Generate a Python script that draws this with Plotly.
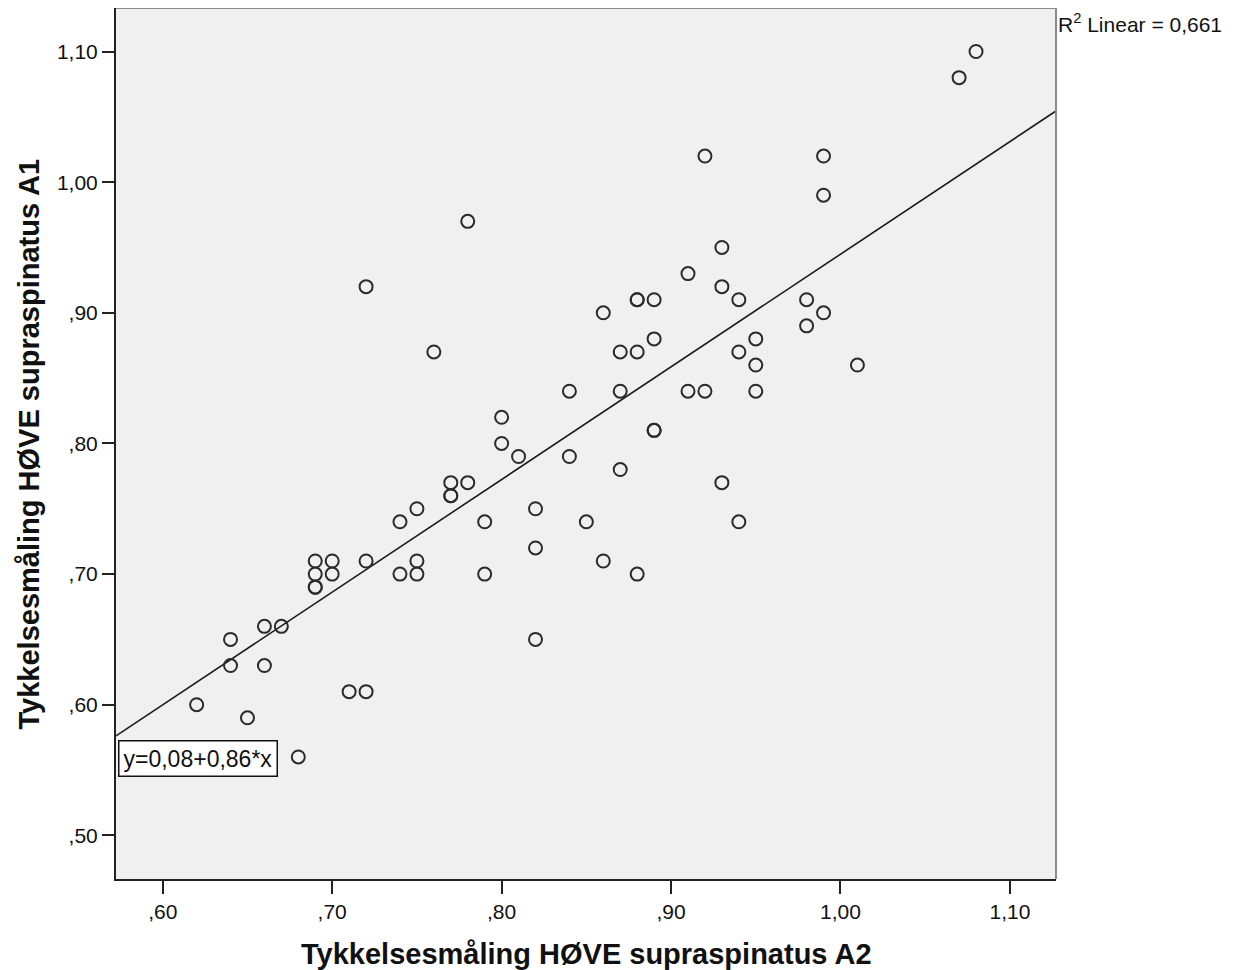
import numpy as np
import plotly.graph_objects as go

# Tykkelsesmåling HØVE supraspinatus A2 (x) and A1 (y)
a2 = [1.08, 1.07, 0.92, 0.99, 0.99, 0.78, 0.93, 0.72, 0.91, 0.93,
      0.88, 0.88, 0.89, 0.94, 0.98, 0.86, 0.99, 0.98, 0.76, 0.87,
      0.88, 0.89, 0.94, 0.95, 0.95, 1.01, 0.84, 0.87, 0.91, 0.92,
      0.95, 0.80, 0.80, 0.89, 0.89, 0.81, 0.84, 0.87, 0.77, 0.78,
      0.77, 0.77, 0.93, 0.75, 0.82, 0.74, 0.79, 0.85, 0.94, 0.82,
      0.69, 0.70, 0.72, 0.75, 0.86, 0.69, 0.70, 0.74, 0.75, 0.79,
      0.88, 0.69, 0.69, 0.64, 0.82, 0.66, 0.67, 0.64, 0.66, 0.71,
      0.72, 0.62, 0.65, 0.68]
a1 = [1.10, 1.08, 1.02, 1.02, 0.99, 0.97, 0.95, 0.92, 0.93, 0.92,
      0.91, 0.91, 0.91, 0.91, 0.91, 0.90, 0.90, 0.89, 0.87, 0.87,
      0.87, 0.88, 0.87, 0.88, 0.86, 0.86, 0.84, 0.84, 0.84, 0.84,
      0.84, 0.82, 0.80, 0.81, 0.81, 0.79, 0.79, 0.78, 0.77, 0.77,
      0.76, 0.76, 0.77, 0.75, 0.75, 0.74, 0.74, 0.74, 0.74, 0.72,
      0.71, 0.71, 0.71, 0.71, 0.71, 0.70, 0.70, 0.70, 0.70, 0.70,
      0.70, 0.69, 0.69, 0.65, 0.65, 0.66, 0.66, 0.63, 0.63, 0.61,
      0.61, 0.60, 0.59, 0.56]

x_tickvals = [0.60, 0.70, 0.80, 0.90, 1.00, 1.10]
x_ticktext = [",60", ",70", ",80", ",90", "1,00", "1,10"]
y_tickvals = [0.50, 0.60, 0.70, 0.80, 0.90, 1.00, 1.10]
y_ticktext = [",50", ",60", ",70", ",80", ",90", "1,00", "1,10"]

x_title = "Tykkelsesmåling HØVE supraspinatus A2"
y_title = "Tykkelsesmåling HØVE supraspinatus A1"
eq_text = "y=0,08+0,86*x"
r2_text = "R<sup>2</sup> Linear = 0,661"

x_range = [0.5724, 1.1272]
y_range = [0.4666, 1.1333]

slope, intercept = np.polyfit(np.array(a2), np.array(a1), 1)
line_x = np.array(x_range)
line_y = intercept + slope * line_x

FONT = "Liberation Sans, Arial, sans-serif"

fig = go.Figure()
fig.add_trace(go.Scatter(
    x=line_x, y=line_y, mode="lines",
    line=dict(color="#1a1a1a", width=1.6),
    hoverinfo="skip", showlegend=False,
))
fig.add_trace(go.Scatter(
    x=a2, y=a1, mode="markers",
    marker=dict(symbol="circle-open", size=13, color="#2a2a2a",
                line=dict(width=2, color="#2a2a2a")),
    showlegend=False,
))

fig.update_layout(
    width=1228, height=962,
    margin=dict(l=108, r=180, t=0, b=90.8, pad=0),
    paper_bgcolor="white",
    plot_bgcolor="#F0F0F0",
    font=dict(family=FONT, size=21, color="#111111"),
    xaxis=dict(
        range=x_range, tickvals=x_tickvals, ticktext=x_ticktext,
        ticks="outside", ticklen=13, tickwidth=1.8, tickcolor="#222222",
        showline=True, linecolor="#222222", linewidth=2,
        showgrid=False, zeroline=False,
        tickfont=dict(family=FONT, size=21, color="#111111"),
    ),
    yaxis=dict(
        range=y_range, tickvals=y_tickvals, ticktext=y_ticktext,
        ticks="outside", ticklen=12, tickwidth=1.8, tickcolor="#222222",
        showline=True, linecolor="#222222", linewidth=2,
        showgrid=False, zeroline=False,
        tickfont=dict(family=FONT, size=21, color="#111111"),
    ),
    shapes=[
        dict(type="line", xref="paper", yref="paper", x0=0, x1=1, y0=1, y1=1,
             line=dict(color="#8a8a8a", width=2)),
        dict(type="line", xref="paper", yref="paper", x0=1, x1=1, y0=0, y1=1,
             line=dict(color="#8a8a8a", width=2)),
    ],
    annotations=[
        dict(text=x_title, xref="paper", yref="paper", x=0.5, y=-0.0864,
             xanchor="center", yanchor="middle", showarrow=False,
             font=dict(family=FONT, size=29, color="#111111", weight="bold")),
        dict(text=y_title, xref="paper", yref="paper", x=-0.0926, y=0.5,
             xanchor="center", yanchor="middle", showarrow=False, textangle=-90,
             font=dict(family=FONT, size=29, color="#111111", weight="bold")),
        dict(text=eq_text, xref="paper", yref="y", x=0.002, y=0.5728,
             xanchor="left", yanchor="top", showarrow=False,
             bgcolor="white", bordercolor="#111111", borderwidth=1.5, borderpad=4,
             font=dict(family=FONT, size=23, color="#111111")),
        dict(text=r2_text, xref="paper", yref="paper", x=1.0, y=1.0,
             xanchor="left", yanchor="top", showarrow=False,
             font=dict(family=FONT, size=21, color="#111111")),
    ],
)

fig.write_html("out.html")
